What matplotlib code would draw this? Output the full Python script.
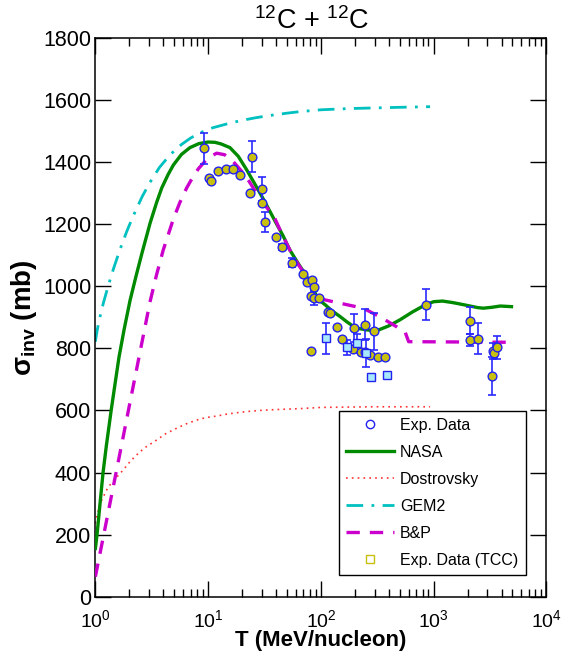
import numpy as np
import matplotlib
matplotlib.use("Agg")
import matplotlib.pyplot as plt
from matplotlib.lines import Line2D

plt.rcParams['font.family'] = ['Liberation Sans', 'DejaVu Sans']
plt.rcParams['mathtext.fontset'] = 'custom'
plt.rcParams['mathtext.rm'] = 'Liberation Sans'
plt.rcParams['mathtext.it'] = 'Liberation Sans:italic'
plt.rcParams['mathtext.bf'] = 'Liberation Sans:bold'

# model curves: energy (MeV/nucleon) and cross section (mb)
nasa_T = [1.0, 1.035, 1.1, 1.17, 1.25, 1.38, 1.5, 1.62, 1.8, 2.03, 2.3, 2.6, 3.06,
          3.5, 3.88, 4.4, 4.92, 5.8, 6.9, 8.3, 10, 11.5, 13, 15.6, 18.5, 22, 26, 30,
          35, 40, 46, 53, 62, 75, 84, 92, 100, 110, 125, 148, 170, 193, 220, 255, 290,
          331, 400, 500, 650, 835, 1000, 1200, 1480, 1800, 2100, 2450, 2750, 3300,
          3900, 4900]
nasa_s = [155, 200, 300, 400, 485, 600, 690, 772, 862, 955, 1035, 1110, 1205,
          1272, 1318, 1360, 1392, 1426, 1448, 1461, 1466, 1465, 1460, 1448, 1420, 1376,
          1330, 1290, 1245, 1205, 1165, 1118, 1078, 1032, 997, 968, 952, 940, 922, 903,
          886, 872, 864, 860, 858, 861, 873, 892, 918, 940, 951, 953, 948, 942, 937,
          932, 930, 933, 937, 935]

dost_T = [1.0, 1.03, 1.065, 1.1, 1.18, 1.25, 1.35, 1.5, 1.66, 1.8, 2.03, 2.25, 2.49,
          2.8, 3.5, 4.2, 5.27, 6.5, 7.9, 9.5, 11.9, 15, 20, 28, 40, 65, 100, 300, 930]
dost_s = [236, 258, 279, 300, 322, 342, 360, 380, 397, 412, 435, 452, 467,
          482, 505, 525, 543, 558, 569, 577, 582, 589, 595, 600, 603, 606, 610, 612, 612]

gem_T = [1.0, 1.03, 1.065, 1.12, 1.18, 1.3, 1.45, 1.66, 1.9, 2.17, 2.6, 3.05, 3.7,
         4.6, 5.8, 7, 8.5, 11, 15.6, 20, 27, 36, 49.8, 65, 100, 180, 300, 500, 930]
gem_s = [822, 852, 880, 915, 948, 1002, 1058, 1121, 1178, 1228, 1290, 1336, 1384,
         1425, 1458, 1479, 1496, 1512, 1527, 1536, 1545, 1552, 1559, 1564, 1570, 1574,
         1576, 1578, 1580]

bp_T = [1.0, 1.18, 1.4, 1.71, 2.03, 2.49, 3.05, 3.5, 4.0, 4.92, 5.6, 6.45, 7.3, 8.2,
        10, 11.9, 14, 16.7, 20, 23, 27, 32, 39, 45, 53, 62, 75, 84, 92, 105, 148, 237,
        331, 470, 560, 600, 5000]
bp_s = [64, 195, 331, 490, 627, 789, 950, 1040, 1118, 1218, 1270, 1318, 1352, 1380,
        1415, 1430, 1425, 1403, 1370, 1340, 1300, 1262, 1220, 1170, 1118, 1075, 1030,
        995, 962, 958, 946, 930, 903, 870, 852, 822, 820]

# measured cross sections
exp_T = [9.25, 10.2, 10.6, 12.3, 14.4, 16.5, 19.2, 23.5, 24.7, 29.8, 29.8, 32, 39.7,
         45, 56, 69, 76, 84, 86, 82, 86, 97, 116, 120, 138, 155, 82, 197, 194, 225,
         245, 247, 272, 297, 318, 370, 852, 2100, 2100, 2460, 3330, 3450, 3640, 3300]
exp_s = [1446, 1349, 1340, 1373, 1378, 1378, 1360, 1301, 1419, 1315, 1268, 1209, 1161,
         1128, 1077, 1040, 1016, 1021, 997, 969, 964, 964, 919, 914, 870, 830, 793, 865,
         797, 790, 876, 790, 779, 856, 774, 772, 941, 890, 827, 831, 792, 785, 804, 711]
exp_err = [50, 0, 0, 0, 0, 0, 0, 0, 50, 38, 0, 32, 0,
           10, 15, 0, 0, 0, 0, 0, 23, 0, 0, 0, 0, 0, 0, 45,
           0, 0, 50, 0, 0, 60, 0, 0, 50, 43, 20, 50, 25, 0, 37, 60]

tcc_T = [110, 172, 207, 251, 281, 387]
tcc_s = [833, 804, 817, 786, 709, 715]
tcc_err = [50, 25, 30, 45, 0, 0]

fig = plt.figure(figsize=(5.61, 6.6), dpi=100)
ax = fig.add_axes([0.170, 0.0962, 0.804, 0.8455])

ax.plot(gem_T, gem_s, color='#00c0c0', lw=2.0, linestyle=(0, (6, 3, 1, 3)), zorder=2)
ax.plot(dost_T, dost_s, color='#ff3030', lw=1.2, linestyle=(0, (1, 2.5)), zorder=2)
ax.plot(nasa_T, nasa_s, color='#008a00', lw=2.4, zorder=3)
ax.plot(bp_T, bp_s, color='#cc00cc', lw=2.4, linestyle=(0, (4, 3)), zorder=3)

exp_T = np.array(exp_T)
exp_s = np.array(exp_s)
exp_err = np.array(exp_err)
has_err = exp_err > 0
ax.errorbar(exp_T[has_err], exp_s[has_err], yerr=exp_err[has_err], fmt='none',
            ecolor='#2a2aff', elinewidth=1.2, capsize=3.2, capthick=1.2, zorder=4)
ax.plot(exp_T, exp_s, 'o', ms=6.3, mfc='#c8c010', mec='#2222ee', mew=1.0, zorder=5)

tcc_T = np.array(tcc_T)
tcc_s = np.array(tcc_s)
tcc_err = np.array(tcc_err)
has_err = tcc_err > 0
ax.errorbar(tcc_T[has_err], tcc_s[has_err], yerr=tcc_err[has_err], fmt='none',
            ecolor='#2a2aff', elinewidth=1.2, capsize=3.2, capthick=1.2, zorder=4)
ax.plot(tcc_T, tcc_s, 's', ms=6, mfc='#a8e8ff', mec='#2222ee', mew=1.0, zorder=5)

ax.set_xscale('log')
ax.set_xlim(1, 1e4)
ax.set_ylim(0, 1800)
ax.set_yticks(np.arange(0, 1801, 200))
ax.tick_params(which='both', direction='in', top=True, right=True)
ax.tick_params(which='major', length=11.5, width=1.0)
ax.tick_params(which='minor', length=6, width=1.0)
ax.tick_params(axis='x', which='major', labelsize=14, pad=9)
ax.tick_params(axis='y', labelsize=15.5, pad=3)
for s in ax.spines.values():
    s.set_linewidth(1.1)

ax.set_xlabel('T (MeV/nucleon)', fontsize=16, fontweight='bold', labelpad=-1)
ax.set_ylabel(r'σ$_{\mathbf{inv}}$ (mb)', fontsize=20, fontweight='bold', labelpad=3)
ax.set_title(r'$^{12}$C + $^{12}$C', fontsize=19.5, pad=7, x=0.48)

handles = [
    Line2D([], [], ls='none', marker='o', ms=6, mfc='none', mec='#2222ee', mew=1.0),
    Line2D([], [], color='#008a00', lw=2.4),
    Line2D([], [], color='#ff3030', lw=1.2, linestyle=(0, (1, 2.5))),
    Line2D([], [], color='#00c0c0', lw=2.0, linestyle=(0, (6, 3, 1, 3))),
    Line2D([], [], color='#cc00cc', lw=2.4, linestyle=(0, (4, 3))),
    Line2D([], [], ls='none', marker='s', ms=5.5, mfc='none', mec='#c8c010', mew=1.0),
]
labels = ['Exp. Data', 'NASA', 'Dostrovsky', 'GEM2', 'B&P', 'Exp. Data (TCC)']
leg = ax.legend(handles, labels, loc='lower right', bbox_to_anchor=(0.954, 0.0385),
                borderaxespad=0, fontsize=11.5, fancybox=False, edgecolor='black',
                framealpha=1, handlelength=3.0, handletextpad=0.4, labelspacing=0.75,
                borderpad=0.45)
leg.get_frame().set_linewidth(1.0)

fig.savefig('out.png', dpi=100)
